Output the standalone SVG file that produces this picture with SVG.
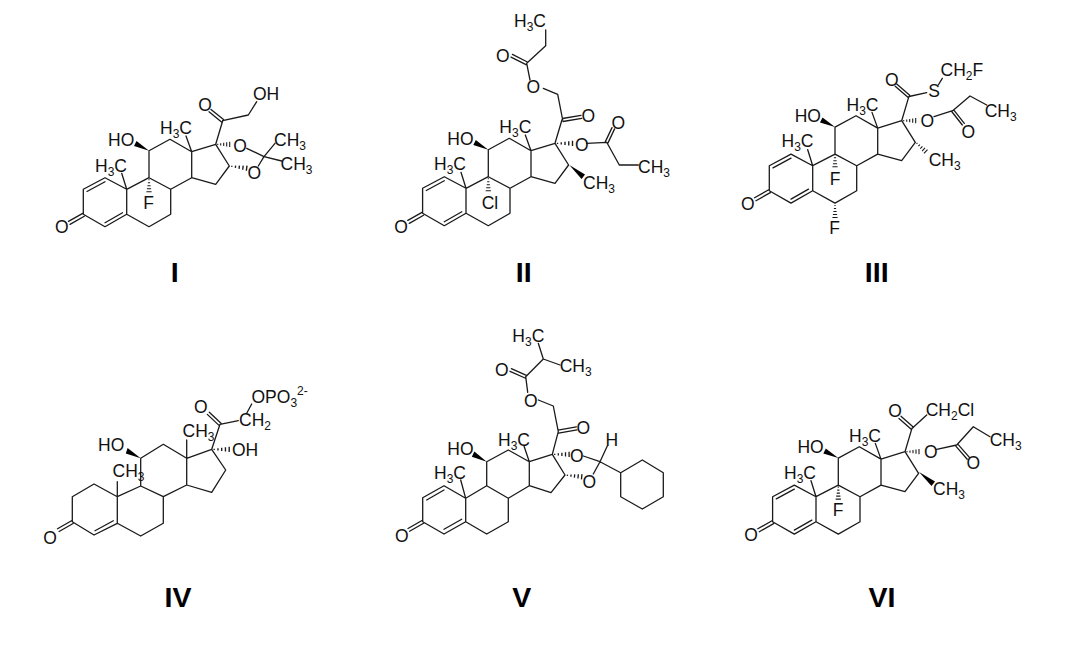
<svg xmlns="http://www.w3.org/2000/svg" xmlns:xlink="http://www.w3.org/1999/xlink" width="1092" height="647" viewBox="0 0 1092 647">
<style>
.b{fill:none;stroke:#1a1a1a;stroke-width:1.3;stroke-linejoin:round;stroke-linecap:round}
.w{fill:#000;stroke:none}
.h{fill:none;stroke:#1a1a1a;stroke-width:1.1}
text{font-family:"Liberation Sans",Arial,sans-serif;font-size:17.5px;fill:#111}
.m{text-anchor:middle}
.s{font-size:12px}
.n{font-size:28.5px;font-weight:bold;text-anchor:middle;fill:#000}
</style>
<defs>
<path id="hash" class="h" d="M2 -.6V.6M5 -1.1V1.1M8 -1.6V1.6M11 -2.1V2.1M14 -2.6V2.6"/>
<g id="core">
<path class="b" d="M105 177.7L83.3 189.3V214.3L105 226.7L126.7 214.3V189.3ZM126.7 189.3L149 177.7L170.7 189.3V214.3L149 226.7L126.7 214.3M149 177.7V150.7L170 139.3L191.7 151.7V177.7L170.7 189.3M191.7 177.7L215.7 184.3L229.3 166L215.7 144.3L191.7 151.7M87 191.5L105 181.7M105 222.7L122.5 212.7M82.7 213.4L68.5 221.4M84.3 216.2L70 224.4M126.7 189.3L121.7 173.3M191.7 151.7L186 136M215.7 144.3L222.7 120.7"/>
<polygon class="w" points="149,150.7 134,146 136.5,141"/>
</g>
</defs>
<rect width="1092" height="647" fill="#fff"/>

<g id="mol-I">
<use xlink:href="#core" href="#core"/>
<g id="bonds-I">
<path class="b" d="M223.5 119.6L211 109.4M221.5 122L209 111.8M222.7 120.7L248.3 115L256.7 101.7M246.7 148.3L264 156.7L275 143.3M258.3 166L264 156.7L281.7 161"/>
<use href="#hash" transform="translate(149 177.7) rotate(90)"/>
<use href="#hash" transform="translate(215.7 144.3)"/>
<use href="#hash" transform="translate(229.3 166) rotate(7) scale(1.25 1)"/>
</g>
<text x="61.7" y="233" class="m">O</text>
<text x="108" y="146.3">HO</text>
<text x="160" y="134.3">H<tspan class="s" dy="4">3</tspan><tspan dy="-4">C</tspan></text>
<text x="95" y="171.7">H<tspan class="s" dy="4">3</tspan><tspan dy="-4">C</tspan></text>
<text x="148.5" y="209" class="m">F</text>
<text x="205" y="110.5" class="m">O</text>
<text x="253" y="100.3">OH</text>
<text x="240" y="152" class="m">O</text>
<text x="254.3" y="178.5" class="m">O</text>
<text x="274" y="146.3">CH<tspan class="s" dy="4">3</tspan></text>
<text x="280.5" y="169.5">CH<tspan class="s" dy="4">3</tspan></text>
<text x="174.7" y="282" class="n">I</text>
</g>

<g id="mol-II">
<use href="#core" transform="translate(339.3 -1)"/>
<g id="bonds-II">
<path class="b" d="M563 121.5L581.7 118.3M562.4 118.5L581 115.3M562.7 120L557.7 94.3L543.3 88.3M530 80L526.7 63.3L545.7 45.7V30M527.4 62L512.4 54.4M526 64.7L511 57.1M586.7 143.3L606.7 142.3L619.3 165H638.3M605.4 141.6L612 127.6M608 142.9L614.6 128.9"/>
<use href="#hash" transform="translate(488.3 176.7) rotate(90)"/>
<use href="#hash" transform="translate(555 143.3) scale(1.25 1)"/>
<polygon class="w" points="569.3,165 585,174.5 581.6,178.9"/>
</g>
<text x="401" y="233" class="m">O</text>
<text x="447.3" y="145.3">HO</text>
<text x="499.3" y="133">H<tspan class="s" dy="4">3</tspan><tspan dy="-4">C</tspan></text>
<text x="434" y="170">H<tspan class="s" dy="4">3</tspan><tspan dy="-4">C</tspan></text>
<text x="490" y="208.5" class="m">Cl</text>
<text x="588.3" y="122" class="m">O</text>
<text x="533.3" y="93" class="m">O</text>
<text x="502.7" y="62" class="m">O</text>
<text x="514" y="27.3">H<tspan class="s" dy="4">3</tspan><tspan dy="-4">C</tspan></text>
<text x="581.7" y="151.3" class="m">O</text>
<text x="618.3" y="128.5" class="m">O</text>
<text x="638" y="173.3">CH<tspan class="s" dy="4">3</tspan></text>
<text x="583" y="189">CH<tspan class="s" dy="4">3</tspan></text>
<text x="523.7" y="282" class="n">II</text>
</g>

<g id="mol-III">
<use href="#core" transform="translate(686 -23.6)"/>
<g id="bonds-III">
<path class="b" d="M909.7 95.2L896.7 84M908.2 97.4L895.2 86.2M909 96.5L926.7 92.7M938.3 85L942.3 78.3M934 116.7L952.7 110.7L970 96L986.7 105M951.7 111.5L962.3 125M953.7 109.9L964.3 123.4"/>
<use href="#hash" transform="translate(835 152.7) rotate(90)"/>
<use href="#hash" transform="translate(835 203.5) rotate(90)"/>
<use href="#hash" transform="translate(901.7 120.7)"/>
<use href="#hash" transform="translate(915.5 142) rotate(43)"/>
</g>
<text x="747.7" y="209.5" class="m">O</text>
<text x="794.7" y="121.7">HO</text>
<text x="846.5" y="110.5">H<tspan class="s" dy="4">3</tspan><tspan dy="-4">C</tspan></text>
<text x="781.5" y="147">H<tspan class="s" dy="4">3</tspan><tspan dy="-4">C</tspan></text>
<text x="835" y="185" class="m">F</text>
<text x="834.5" y="234" class="m">F</text>
<text x="891.7" y="86.3" class="m">O</text>
<text x="934" y="97.2" class="m">S</text>
<text x="940.5" y="76">CH<tspan class="s" dy="4">2</tspan><tspan dy="-4">F</tspan></text>
<text x="927.3" y="126.5" class="m">O</text>
<text x="968.3" y="138" class="m">O</text>
<text x="984.7" y="116.7">CH<tspan class="s" dy="4">3</tspan></text>
<text x="928.7" y="165.7">CH<tspan class="s" dy="4">3</tspan></text>
<text x="876.7" y="282" class="n">III</text>
</g>

<g id="mol-IV">
<g id="bonds-IV">
<path class="b" d="M94 484L72.3 496.7V521.7L94 535L117.3 523.3V496.7ZM117.3 496.7L140.7 486L163.3 496.7V523.3L140.7 536L117.3 523.3M140.7 486V458.3L163.3 444.3L186.7 458.3V485L163.3 496.7M186.7 485L211.7 492.3L225.7 470L211.7 449.3L186.7 458.3M95 530.7L113.3 520.7M71.5 520.7L57.5 528.7M73.1 523.5L59.1 531.5M117.3 496.7V481.7M186.7 458.3V440M211.7 449.3L220 424.3M221 423.2L209.3 412.2M219 425.4L207.3 414.4M220 424.3L238.3 420.7M246.7 413.3L251.7 404"/>
<polygon class="w" points="140.7,458.3 125.8,453.6 127.6,448"/>
<use href="#hash" transform="translate(211.7 449.3) scale(1.25 1)"/>
</g>
<text x="50" y="543.5" class="m">O</text>
<text x="98" y="451.3">HO</text>
<text x="112.5" y="477.3">CH<tspan class="s" dy="4">3</tspan></text>
<text x="182.5" y="436.7">CH<tspan class="s" dy="4">3</tspan></text>
<text x="232" y="456">OH</text>
<text x="200.7" y="413" class="m">O</text>
<text x="239" y="425.7">CH<tspan class="s" dy="4">2</tspan></text>
<text x="251.5" y="402.7">OPO<tspan class="s" dy="4">3</tspan><tspan class="s" dy="-12">2-</tspan></text>
<text x="178" y="607" class="n">IV</text>
</g>

<g id="mol-V">
<g id="bonds-V">
<path class="b" d="M444 485.7L422.7 497.7V521.7L444 534L465.7 521.7V498.3ZM465.7 498.3L486.7 485.7L508.3 498.3V521.7L486.7 534L465.7 521.7M486.7 485.7V461.7L508.3 450L529.3 461.7V485.7L508.3 498.3M529.3 485.7L551 492.7L565 475L552.3 454.3L529.3 461.7M426.7 500L444 490M444 529.3L461.7 519.3M422 520.5L408 528.5M423.6 523.2L409.6 531.2M465.7 498.3L460.7 480M529.3 461.7L524 446M552.3 454.3L558.3 431.7M558.6 433.2L577 429.8M558 430.2L576.4 426.8M558.3 431.7L553.3 406L538.3 400M527.7 392.3L525.7 376.7L543.3 359L538.3 343.3M543.3 359L560 365M526.4 375.4L511.4 368.7M525 378L510 371.3M583.3 456L600 461.7L607.3 446M593.3 474L600 461.7L620.7 472.7M620.7 472.7L642.3 460L663.3 472.7V496.7L642.3 509L620.7 496.7Z"/>
<polygon class="w" points="486.7,461.7 471.8,456.8 474.4,451.6"/>
<use href="#hash" transform="translate(552.3 454.3) scale(1.2 1)"/>
<use href="#hash" transform="translate(565 475) rotate(6) scale(1.2 1)"/>
</g>
<text x="401.7" y="542" class="m">O</text>
<text x="447.3" y="455.3">HO</text>
<text x="498" y="446">H<tspan class="s" dy="4">3</tspan><tspan dy="-4">C</tspan></text>
<text x="434" y="479.3">H<tspan class="s" dy="4">3</tspan><tspan dy="-4">C</tspan></text>
<text x="583.3" y="433.5" class="m">O</text>
<text x="530.7" y="406.5" class="m">O</text>
<text x="501.7" y="375.5" class="m">O</text>
<text x="512.3" y="341.7">H<tspan class="s" dy="4">3</tspan><tspan dy="-4">C</tspan></text>
<text x="559.7" y="371.7">CH<tspan class="s" dy="4">3</tspan></text>
<text x="576.7" y="461.5" class="m">O</text>
<text x="589.3" y="487.5" class="m">O</text>
<text x="611.7" y="445.5" class="m">H</text>
<text x="521.7" y="607" class="n">V</text>
</g>

<g id="mol-VI">
<use href="#core" transform="translate(689.3 307.4)"/>
<g id="bonds-VI">
<path class="b" d="M913.5 427.2L901 416.2M911.5 429.4L899 418.4M912.5 428L926.7 415M936.7 449.3L956.7 445L973.3 426.7L990 436.7M955.6 445.9L967.2 459.2M957.8 444.1L969.4 457.4"/>
<use href="#hash" transform="translate(838.3 485.1) rotate(90)"/>
<use href="#hash" transform="translate(905 451.7)"/>
<polygon class="w" points="919,472 935,481.5 931.5,486"/>
</g>
<text x="751" y="540.5" class="m">O</text>
<text x="797.4" y="452.8">HO</text>
<text x="849" y="441.5">H<tspan class="s" dy="4">3</tspan><tspan dy="-4">C</tspan></text>
<text x="784" y="478.6">H<tspan class="s" dy="4">3</tspan><tspan dy="-4">C</tspan></text>
<text x="838" y="515.5" class="m">F</text>
<text x="895" y="417" class="m">O</text>
<text x="925.7" y="415.5">CH<tspan class="s" dy="4">2</tspan><tspan dy="-4">Cl</tspan></text>
<text x="930.7" y="458" class="m">O</text>
<text x="973.3" y="469" class="m">O</text>
<text x="989.7" y="446">CH<tspan class="s" dy="4">3</tspan></text>
<text x="933" y="495">CH<tspan class="s" dy="4">3</tspan></text>
<text x="882" y="607" class="n">VI</text>
</g>
</svg>
